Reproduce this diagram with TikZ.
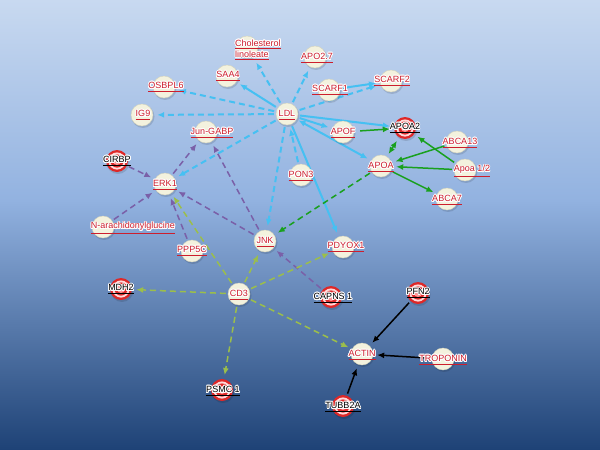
\documentclass[tikz,border=0pt]{standalone}
\usepackage{fontspec}
\setmainfont{Liberation Sans}
\usepackage{contour}
\contourlength{0.8pt}
\usetikzlibrary{arrows.meta}
\definecolor{bgtop}{RGB}{200,217,240}
\definecolor{bgmid}{RGB}{146,178,224}
\definecolor{bgbot}{RGB}{30,66,118}
\definecolor{cream}{RGB}{243,242,222}
\definecolor{creamedge}{RGB}{212,211,188}
\definecolor{labred}{RGB}{205,30,45}
\definecolor{cyanc}{RGB}{70,192,242}
\definecolor{purp}{RGB}{122,96,168}
\definecolor{ygreen}{RGB}{155,190,75}
\definecolor{grn}{RGB}{25,160,30}
\definecolor{ringred}{RGB}{222,40,40}
\newcommand\lt[1]{\underline{\contour{white}{#1}}}
\tikzset{
  nd/.style={circle,minimum size=22pt,inner sep=0pt},
  lb/.style={font=\fontsize{9}{11}\selectfont,text=labred,inner sep=0pt},
  lk/.style={font=\fontsize{9}{11}\selectfont,text=black,inner sep=0pt},
  ed/.style={line width=1.5pt,shorten >=4pt,shorten <=2pt,-{Latex[length=7pt,width=6pt]}},
  cy/.style={ed,draw=cyanc,line width=2pt},
  pu/.style={ed,draw=purp},
  yg/.style={ed,draw=ygreen},
  gs/.style={ed,draw=grn},
  bk/.style={ed,draw=black},
  dsh/.style={dash pattern=on 6pt off 4pt},
}
\begin{document}
\begin{tikzpicture}[x=1pt,y=-1pt]
\useasboundingbox (0,0) rectangle (600,450);
\shade[top color=bgtop,bottom color=bgmid] (0,0) rectangle (600,201);
\shade[top color=bgmid,bottom color=bgbot] (0,200) rectangle (600,450);
% node anchors
\foreach \n/\x/\y in {chol/247/47,apo27/315/57,saa4/227/76,scarf2/391/81,scarf1/329/90,osbpl6/164/87,ig9/142/115,ldl/287/114,apof/343/132,abca13/457/142,jun/206/132,apoa/381/166,apoa12/465/170,pon3/301/175,erk1/165/184,abca7/447/199,narach/103/227,ppp5c/192/251,jnk/265/241,pdyox1/343/247,cd3/239/294,actin/362/354,troponin/443/359,apoa2/405/128,cirbp/117/161,mdh2/121/289,capns1/331/297,pfn2/418/293,psmc1/222/390,tubb2a/343/406}
  \node[nd] (\n) at (\x,\y) {};
% cyan edges
\draw[cy,dsh] (ldl) -- (ig9);
\draw[cy,dsh] (ldl) -- (osbpl6);
\draw[cy] (ldl) -- (saa4);
\draw[cy,dsh,shorten >=7pt] (ldl) -- (chol);
\draw[cy,dsh] (ldl) -- (apo27);
\draw[cy,dsh] (ldl) -- (scarf2);
\draw[cy] (scarf1) -- (scarf2);
\draw[cy] (ldl) -- (apof);
\draw[cy] (ldl) -- (apoa2);
\draw[cy,{Latex[length=7pt,width=6pt]}-{Latex[length=7pt,width=6pt]}] (ldl) -- (apoa);
\draw[cy] (ldl) -- (pdyox1);
\draw[cy,dsh] (pon3) -- (ldl);
\draw[cy,dsh] (ldl) -- (jnk);
\draw[cy,dsh] (ldl) -- (erk1);
% purple edges
\draw[pu,dsh] (cirbp) -- (erk1);
\draw[pu,dsh] (narach) -- (erk1);
\draw[pu,dsh] (ppp5c) -- (erk1);
\draw[pu,dsh] (erk1) -- (jun);
\draw[pu,dsh] (jnk) -- (jun);
\draw[pu,dsh] (jnk) -- (erk1);
\draw[pu,dsh] (capns1) -- (jnk);
% yellow-green edges
\draw[yg,dsh] (cd3) -- (erk1);
\draw[yg,dsh] (cd3) -- (jnk);
\draw[yg,dsh] (cd3) -- (pdyox1);
\draw[yg,dsh] (cd3) -- (mdh2);
\draw[yg,dsh] (cd3) -- (psmc1);
\draw[yg,dsh] (cd3) -- (actin);
% green edges
\draw[gs,shorten <=6pt] (apof) -- (apoa2);
\draw[gs,{Latex[length=7pt,width=6pt]}-{Latex[length=7pt,width=6pt]},shorten <=3pt] (apoa) -- (apoa2);
\draw[gs] (abca13) -- (apoa);
\draw[gs] (apoa12) -- (apoa2);
\draw[gs] (apoa12) -- (apoa);
\draw[gs] (apoa) -- (abca7);
\draw[gs,dsh] (apoa) -- (jnk);
% black edges
\draw[bk] (pfn2) -- (actin);
\draw[bk] (troponin) -- (actin);
\draw[bk] (tubb2a) -- (actin);
% cream circles
\foreach \n in {chol,apo27,saa4,scarf2,scarf1,osbpl6,ig9,ldl,apof,abca13,jun,apoa,apoa12,pon3,erk1,abca7,narach,ppp5c,jnk,pdyox1,cd3,actin,troponin}{
  \fill[black,opacity=0.12] ([shift={(1,1.5)}]\n.center) circle (11.5);
  \fill[cream,draw=creamedge,line width=0.4pt] (\n.center) circle (11);
}
% red target circles
\foreach \n in {apoa2,cirbp,mdh2,capns1,pfn2,psmc1,tubb2a}{
  \fill[black,opacity=0.12] ([shift={(1,1.5)}]\n.center) circle (11.5);
  \fill[ringred] (\n.center) circle (11);
  \fill[white!85!red] (\n.center) circle (8.6);
  \fill[ringred] (\n.center) circle (6.6);
  \fill[white!60!red] (\n.center) circle (4);
}
% labels
\node[lb,anchor=west,align=left] (chol-t) at (235,50) {\lt{Cholesterol}\\\lt{linoleate}};
\node[lb] (apo27-t) at (317,58) {\lt{APO2.7}};
\node[lb] (saa4-t) at (228,76) {\lt{SAA4}};
\node[lb] (scarf2-t) at (392,81) {\lt{SCARF2}};
\node[lb] (scarf1-t) at (330,90) {\lt{SCARF1}};
\node[lb] (osbpl6-t) at (166,87) {\lt{OSBPL6}};
\node[lb] (ig9-t) at (143,115) {\lt{IG9}};
\node[lb] (ldl-t) at (287,115) {\lt{LDL}};
\node[lb] (apof-t) at (343,133) {\lt{APOF}};
\node[lk] (apoa2-t) at (405,128) {\lt{APOA2}};
\node[lb] (abca13-t) at (460,143) {\lt{ABCA13}};
\node[lb] (jun-t) at (212,133) {\lt{Jun-GABP}};
\node[lk] (cirbp-t) at (117,161) {\lt{CIRBP}};
\node[lb] (apoa-t) at (381,167) {\lt{APOA}};
\node[lb] (apoa12-t) at (472,171) {\lt{Apoa 1/2}};
\node[lb] (pon3-t) at (301,176) {\lt{PON3}};
\node[lb] (erk1-t) at (165,185) {\lt{ERK1}};
\node[lb] (abca7-t) at (447,200) {\lt{ABCA7}};
\node[lb] (narach-t) at (133,228) {\lt{N-arachidonylglucine}};
\node[lb] (ppp5c-t) at (192,251) {\lt{PPP5C}};
\node[lb] (jnk-t) at (265,242) {\lt{JNK}};
\node[lb] (pdyox1-t) at (346,247) {\lt{PDYOX1}};
\node[lk] (mdh2-t) at (121,289) {\lt{MDH2}};
\node[lb] (cd3-t) at (239,295) {\lt{CD3}};
\node[lk] (capns1-t) at (333,298) {\lt{CAPNS 1}};
\node[lk] (pfn2-t) at (418,293) {\lt{PFN2}};
\node[lb] (actin-t) at (362,355) {\lt{ACTIN}};
\node[lb] (troponin-t) at (443,360) {\lt{TROPONIN}};
\node[lk] (psmc1-t) at (223,391) {\lt{PSMC 1}};
\node[lk] (tubb2a-t) at (343,407) {\lt{TUBB2A}};
\end{tikzpicture}
\end{document}
